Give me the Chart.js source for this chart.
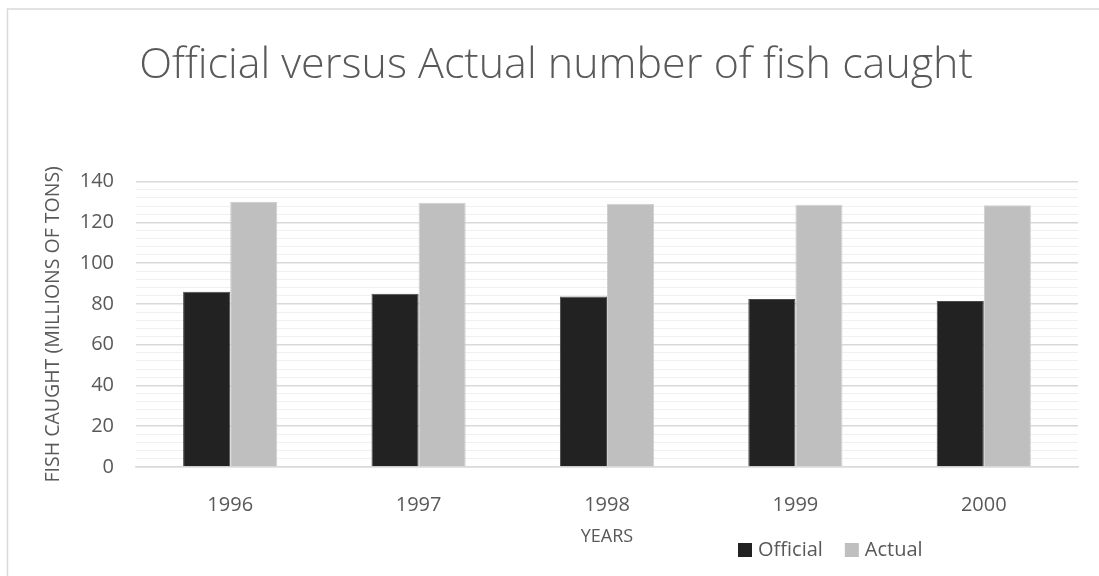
<!DOCTYPE html>
<html>
<head>
<meta charset="utf-8">
<script src="https://cdn.jsdelivr.net/npm/chart.js@4.4.1/dist/chart.umd.min.js"></script>
<style>
  html, body { margin: 0; padding: 0; background: #ffffff; }
  #wrap { width: 1099px; height: 576px; position: relative; }
</style>
</head>
<body>
<div id="wrap"><canvas id="c" width="1099" height="576"></canvas></div>
<script>
const years = ['1996', '1997', '1998', '1999', '2000'];
const official = [86, 85, 83.6, 82.4, 81.4];
const actual = [130, 129.6, 129.1, 128.7, 128.4];
const seriesNames = ['Official', 'Actual'];
const yTicks = [0, 20, 40, 60, 80, 100, 120, 140];
const titleText = 'Official versus Actual number of fish caught';
const xTitle = 'YEARS';
const yTitle = 'FISH CAUGHT (MILLIONS OF TONS)';

const FONT = "'Open Sans', 'Liberation Sans', sans-serif";
const TXT = '#595959';

const framePlugin = {
  id: 'frame',
  beforeDraw(chart) {
    const ctx = chart.ctx;
    ctx.save();
    ctx.fillStyle = '#ffffff';
    ctx.fillRect(0, 0, chart.width, chart.height);
    ctx.strokeStyle = '#d9d9d9';
    ctx.lineWidth = 1.5;
    ctx.strokeRect(7.5, 9, chart.width + 20, chart.height + 20);
    ctx.restore();
  }
};

const legendPlugin = {
  id: 'customLegend',
  afterDraw(chart) {
    const ctx = chart.ctx;
    ctx.save();
    ctx.font = "20px " + FONT;
    ctx.textBaseline = 'middle';
    ctx.textAlign = 'left';
    let x = 738;
    const y = 550;
    chart.data.datasets.forEach((ds, i) => {
      ctx.fillStyle = ds.backgroundColor;
      ctx.fillRect(x, y - 7, 14, 14);
      ctx.fillStyle = TXT;
      ctx.fillText(ds.label, x + 20, y);
      x += 20 + ctx.measureText(ds.label).width + 22;
    });
    ctx.restore();
  }
};

new Chart(document.getElementById('c'), {
  type: 'bar',
  data: {
    labels: years,
    datasets: [
      { label: seriesNames[0], data: official, backgroundColor: '#222222', borderColor: '#4a4a4a', borderWidth: 1 },
      { label: seriesNames[1], data: actual, backgroundColor: '#bfbfbf', borderColor: '#cfcfcf', borderWidth: 1 }
    ]
  },
  options: {
    responsive: false,
    animation: false,
    devicePixelRatio: 1,
    layout: { padding: { left: 34, right: 21, top: 0, bottom: 0 } },
    datasets: { bar: { categoryPercentage: 0.5, barPercentage: 1.0 } },
    plugins: {
      legend: { display: false },
      tooltip: { enabled: false },
      title: {
        display: true,
        text: titleText,
        color: TXT,
        font: { family: FONT, size: 43, weight: '300', lineHeight: 1.2 },
        padding: { top: 40, bottom: 90 }
      }
    },
    scales: {
      x: {
        grid: { display: false },
        border: { display: true, color: '#d9d9d9', width: 1.5 },
        ticks: { color: TXT, font: { family: FONT, size: 20 }, padding: 18 },
        title: { display: true, text: xTitle, color: TXT, font: { family: FONT, size: 18, lineHeight: 1.2 }, padding: { top: 0, bottom: 28 } },
        afterFit(scale) { scale.height = 109; }
      },
      y: {
        min: 0,
        max: 140,
        afterBuildTicks(scale) {
          const t = [];
          for (let v = 0; v <= 140; v += 4) t.push({ value: v });
          scale.ticks = t;
        },
        grid: {
          drawTicks: false,
          color: (c) => (c.tick && yTicks.includes(c.tick.value)) ? '#d9d9d9' : '#f0f0f0',
          lineWidth: (c) => (c.tick && yTicks.includes(c.tick.value)) ? 1.5 : 1
        },
        border: { display: false },
        ticks: {
          autoSkip: false,
          color: TXT,
          font: { family: FONT, size: 20 },
          padding: 22,
          callback: (v) => yTicks.includes(v) ? String(v) : ''
        },
        title: { display: true, text: yTitle, color: TXT, font: { family: FONT, size: 19.5, lineHeight: 1.2 }, padding: { top: 8, bottom: 0 } },
        afterFit(scale) { scale.width = 102; }
      }
    }
  },
  plugins: [framePlugin, legendPlugin]
});
</script>
</body>
</html>
